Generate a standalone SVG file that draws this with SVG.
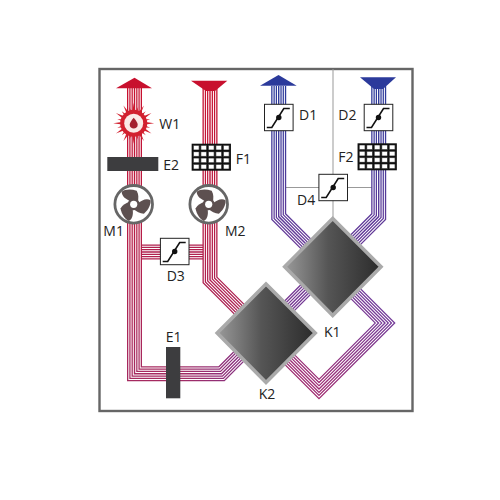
<svg xmlns="http://www.w3.org/2000/svg" width="500" height="500" viewBox="0 0 500 500">
<style>
text{font-family:"Open Sans","Liberation Sans",sans-serif;font-size:14px;fill:#222}
.g{fill:none;stroke:#999;stroke-width:1}
.d{fill:none;stroke-linejoin:miter;stroke-miterlimit:10}
.s1{stroke-width:15}.s2{stroke-width:12.400;stroke:#fff}.s3{stroke-width:10.400}.s4{stroke-width:7.900;stroke:#fff}.s5{stroke-width:5.900}.s6{stroke-width:3.400;stroke:#fff}.s7{stroke-width:1.400}
.sym{fill:#fff;stroke:#222;stroke-width:1}
.cu{fill:none;stroke:#111;stroke-width:1.600}
.k{stroke:#aaa;stroke-width:3.600;stroke-linejoin:miter}
.dk{fill:#3d3d3f}
</style>
<defs>
<linearGradient id="ga" gradientUnits="userSpaceOnUse" x1="0" y1="90" x2="0" y2="250"><stop offset="0" stop-color="#2b3a9b"/><stop offset="1" stop-color="#6a3a98"/></linearGradient>
<linearGradient id="gb" gradientUnits="userSpaceOnUse" x1="335" y1="0" x2="270" y2="0"><stop offset="0" stop-color="#6a3a98"/><stop offset="1" stop-color="#7c3590"/></linearGradient>
<linearGradient id="gc" gradientUnits="userSpaceOnUse" x1="270" y1="0" x2="173" y2="0"><stop offset="0" stop-color="#7c3590"/><stop offset="1" stop-color="#a52a60"/></linearGradient>
<linearGradient id="gd" gradientUnits="userSpaceOnUse" x1="0" y1="374" x2="0" y2="86"><stop offset="0" stop-color="#a52a60"/><stop offset="1" stop-color="#c8102e"/></linearGradient>
<linearGradient id="gf" gradientUnits="userSpaceOnUse" x1="370" y1="290" x2="290" y2="390"><stop offset="0" stop-color="#6f3c9c"/><stop offset="1" stop-color="#a62a6c"/></linearGradient>
<linearGradient id="gg" gradientUnits="userSpaceOnUse" x1="0" y1="336" x2="0" y2="86"><stop offset="0" stop-color="#a82458"/><stop offset="1" stop-color="#c8102e"/></linearGradient>
<linearGradient id="kg" x1="0" y1="0" x2="1" y2="0"><stop offset="0" stop-color="#9a9a9a"/><stop offset=".45" stop-color="#555"/><stop offset="1" stop-color="#2b2b2b"/></linearGradient>
<path id="pa" class="d" d="M378.700 86V216.600L335 260.300"/>
<path id="pb" class="d" d="M335 260.300L270 325.300"/>
<path id="pc" class="d" d="M270 325.300L221.500 373.800H173"/>
<path id="pd" class="d" d="M173 373.800H134.500V86"/>
<path id="pe" class="d" d="M278.700 86V216.600L330 268"/>
<path id="pf" class="d" d="M330 268L385 323L319 389L266 336"/>
<path id="pg" class="d" d="M266 336L210 280V86"/>
<path id="ph" class="d" d="M138 252H207"/>
<g id="damper"><rect class="sym" x="-14.300" y="-13.200" width="28.600" height="26.400"/><path class="cu" d="M-12 10H-7L5-9H11"/><circle r="2.700" fill="#111"/></g>
<g id="filter"><rect x="-19.650" y="-13.500" width="39.300" height="27" fill="#111"/><path fill="#fff" stroke="#111" stroke-width=".7" d="M-18-11.900h5.900v4.750h-5.900zM-10.500-11.900h5.900v4.750h-5.900zM-3-11.900h5.900v4.750h-5.900zM4.500-11.900h5.900v4.750h-5.900zM12-11.900h5.900v4.750h-5.900zM-18-5.550h5.900v4.750h-5.900zM-10.500-5.550h5.900v4.750h-5.900zM-3-5.550h5.900v4.750h-5.900zM4.500-5.550h5.900v4.750h-5.900zM12-5.550h5.900v4.750h-5.900zM-18 .800h5.900v4.750h-5.900zM-10.500 .800h5.900v4.750h-5.900zM-3 .800h5.900v4.750h-5.900zM4.500 .800h5.900v4.750h-5.900zM12 .800h5.900v4.750h-5.900zM-18 7.150h5.900v4.750h-5.900zM-10.500 7.150h5.900v4.750h-5.900zM-3 7.150h5.900v4.750h-5.900zM4.500 7.150h5.900v4.750h-5.900zM12 7.150h5.900v4.750h-5.900z"/></g>
<path id="blade" d="M4-2C5-6 5-10 3-13.500C-3-15.500-9-15-12-12.500C-12-8-8-5-3-3Z" fill="#5d5050"/>
<g id="fan"><circle r="18.800" fill="#fff" stroke="#666" stroke-width="2.800"/><use href="#blade"/><use href="#blade" transform="rotate(120)"/><use href="#blade" transform="rotate(240)"/><circle r="6" fill="#5d5050"/><circle r="3.600" fill="#fff"/></g>
<path id="sp" d="M0-20.500L3 0L0 20.500L-3 0Z" fill="#d2202f"/>
<path id="sq" d="M0-17L3 0L0 17L-3 0Z" fill="#d2202f"/>
</defs>
<rect width="500" height="500" fill="#fff"/>
<rect x="99.500" y="69" width="313" height="342" fill="#fff" stroke="#666" stroke-width="2.400"/>
<g id="connectors">
<path class="g" d="M333 69V218M286 187.500H373"/>
<g stroke="#b0214f"><use href="#ph" class="s1"/><use href="#ph" class="s2"/><use href="#ph" class="s3"/><use href="#ph" class="s4"/><use href="#ph" class="s5"/><use href="#ph" class="s6"/><use href="#ph" class="s7"/></g>
<g stroke="url(#gd)"><use href="#pd" class="s1"/><use href="#pd" class="s2"/><use href="#pd" class="s3"/><use href="#pd" class="s4"/><use href="#pd" class="s5"/><use href="#pd" class="s6"/><use href="#pd" class="s7"/></g>
<g stroke="url(#gg)"><use href="#pg" class="s1"/><use href="#pg" class="s2"/><use href="#pg" class="s3"/><use href="#pg" class="s4"/><use href="#pg" class="s5"/><use href="#pg" class="s6"/><use href="#pg" class="s7"/></g>
<g stroke="url(#gc)"><use href="#pc" class="s1"/><use href="#pc" class="s2"/><use href="#pc" class="s3"/><use href="#pc" class="s4"/><use href="#pc" class="s5"/><use href="#pc" class="s6"/><use href="#pc" class="s7"/></g>
<g stroke="url(#gb)"><use href="#pb" class="s1"/><use href="#pb" class="s2"/><use href="#pb" class="s3"/><use href="#pb" class="s4"/><use href="#pb" class="s5"/><use href="#pb" class="s6"/><use href="#pb" class="s7"/></g>
<g stroke="url(#gf)"><use href="#pf" class="s1"/><use href="#pf" class="s2"/><use href="#pf" class="s3"/><use href="#pf" class="s4"/><use href="#pf" class="s5"/><use href="#pf" class="s6"/><use href="#pf" class="s7"/></g>
<g stroke="url(#ga)"><use href="#pa" class="s1"/><use href="#pa" class="s2"/><use href="#pa" class="s3"/><use href="#pa" class="s4"/><use href="#pa" class="s5"/><use href="#pa" class="s6"/><use href="#pa" class="s7"/></g>
<g stroke="url(#ga)"><use href="#pe" class="s1"/><use href="#pe" class="s2"/><use href="#pe" class="s3"/><use href="#pe" class="s4"/><use href="#pe" class="s5"/><use href="#pe" class="s6"/><use href="#pe" class="s7"/></g>
<path d="M134.500 77.700L152 88.300H116Z" fill="#c8102e"/><path d="M191 80.700H227.300L215 91H206Z" fill="#c8102e"/><path d="M278.500 75L296.700 85.700H260Z" fill="#2b3a9b"/><path d="M360 77.300H396L383 89H374Z" fill="#2b3a9b"/>
</g>
<g id="K1"><path class="k" d="M332.700 218.500L381 266.700L332.700 315.500L284.700 266.700Z" fill="url(#kg)"/><text x="324" y="336.700">K1</text></g>
<g id="K2"><path class="k" d="M266 284L315.200 333L266 382.500L217.200 333Z" fill="url(#kg)"/><text x="258.700" y="399">K2</text></g>
<g id="W1"><g transform="translate(133.700 123.300)"><use href="#sp"/><use href="#sp" transform="rotate(30)"/><use href="#sp" transform="rotate(60)"/><use href="#sp" transform="rotate(90)"/><use href="#sp" transform="rotate(120)"/><use href="#sp" transform="rotate(150)"/><use href="#sq" transform="rotate(15)"/><use href="#sq" transform="rotate(45)"/><use href="#sq" transform="rotate(75)"/><use href="#sq" transform="rotate(105)"/><use href="#sq" transform="rotate(135)"/><use href="#sq" transform="rotate(165)"/><circle r="13.500" fill="#d2202f"/><circle r="9.500" fill="#fbe9e7"/><path d="M0-5.500C2.500-2.500 4-.500 4 1.500C4 6.500-4 6.500-4 1.500C-4-.500-2.500-2.500 0-5.500Z" fill="#a31f2e"/></g><text x="159.300" y="129.300">W1</text></g>
<g id="E2"><rect class="dk" x="107.300" y="157" width="51" height="14"/><text x="163.300" y="170.300">E2</text></g>
<g id="F1"><use href="#filter" x="211.300" y="157.200"/><text x="235.700" y="163.700">F1</text></g>
<g id="M1"><use href="#fan" x="133.700" y="204.300"/><text x="103.300" y="235.700">M1</text></g>
<g id="M2"><use href="#fan" x="208.700" y="204.300"/><text x="225" y="235.700">M2</text></g>
<g id="D1"><use href="#damper" x="278.800" y="117.500"/><text x="299" y="120">D1</text></g>
<g id="D2"><use href="#damper" x="378.500" y="117.500"/><text x="338.300" y="120">D2</text></g>
<g id="F2"><use href="#filter" x="377.200" y="156.800"/><text x="338.300" y="161.700">F2</text></g>
<g id="D4"><use href="#damper" x="333.200" y="187.500"/><text x="297" y="205.300">D4</text></g>
<g id="D3"><use href="#damper" x="174.700" y="251.500"/><text x="166.700" y="281.300">D3</text></g>
<g id="E1"><rect class="dk" x="166" y="347" width="14.300" height="51.300"/><text x="165.700" y="342.300">E1</text></g>
</svg>
